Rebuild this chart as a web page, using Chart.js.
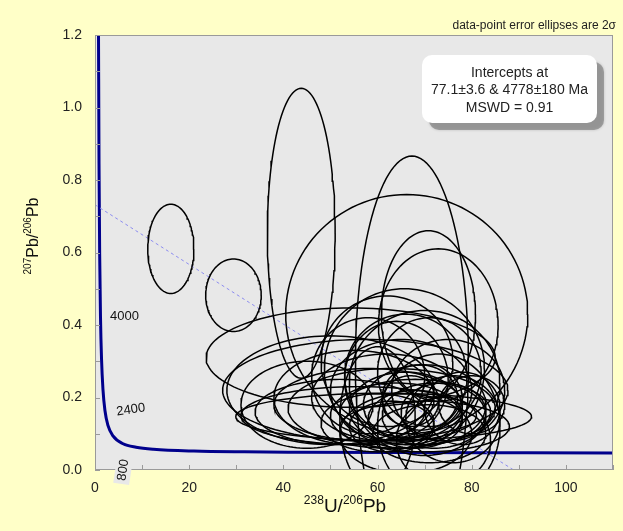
<!DOCTYPE html>
<html>
<head>
<meta charset="utf-8">
<script src="https://cdn.jsdelivr.net/npm/chart.js@4.4.1/dist/chart.umd.min.js"></script>
<style>
  html, body { margin: 0; padding: 0; background: #ffffc8; }
  #wrap { width: 623px; height: 531px; position: relative; }
</style>
</head>
<body>
<div id="wrap"><canvas id="chart"></canvas></div>
<script>
// tick labels
const xTickLabels = ["0", "20", "40", "60", "80", "100"];
const yTickLabels = ["0.0", "0.2", "0.4", "0.6", "0.8", "1.0", "1.2"];

// data-point error ellipses: centre, half-axes (2 sigma) and error correlation
const ellipseX = [16.1, 29.4, 43.8, 67.3, 66.2, 70.8, 72.9, 65.7, 54.3, 57.4, 61.3,
  58, 62, 64, 66, 68, 70, 72, 60, 74, 65, 69, 63, 71, 55, 50, 76, 73, 60, 67, 78, 64, 52, 45, 70,
  66, 71, 62, 75, 58, 68, 63, 80, 66, 74, 56, 70];
const ellipseY = [0.61, 0.482, 0.653, 0.30, 0.43, 0.43, 0.40, 0.28, 0.31, 0.22, 0.147,
  0.18, 0.20, 0.15, 0.17, 0.14, 0.18, 0.15, 0.13, 0.16, 0.22, 0.20, 0.12, 0.10, 0.20, 0.22, 0.14, 0.12, 0.14, 0.19, 0.17, 0.25, 0.16, 0.18, 0.24,
  0.26, 0.27, 0.30, 0.22, 0.26, 0.16, 0.17, 0.18, 0.10, 0.08, 0.15, 0.12];
const ellipseSx = [4.9, 5.9, 7.2, 12, 25.7, 10, 12.7, 17, 30.7, 30.3, 31.4,
  20, 16, 14, 12, 10, 13, 11, 12, 9, 15, 8, 9, 12, 17, 22, 10, 13, 8, 6, 8, 11, 18, 14, 16,
  13, 11, 14, 12, 12, 16, 22, 7, 14, 10, 25, 18];
const ellipseSy = [0.123, 0.10, 0.40, 0.566, 0.33, 0.23, 0.21, 0.22, 0.137, 0.14, 0.065,
  0.10, 0.12, 0.09, 0.10, 0.08, 0.11, 0.09, 0.08, 0.08, 0.14, 0.09, 0.07, 0.08, 0.13, 0.15, 0.12, 0.20, 0.20, 0.07, 0.10, 0.16, 0.09, 0.12, 0.20,
  0.17, 0.15, 0.18, 0.14, 0.16, 0.09, 0.11, 0.08, 0.11, 0.12, 0.08, 0.07];
const ellipseRho = [0, 0, 0, 0, 0, 0, 0, 0, 0, 0, 0,
  0, 0, 0, 0, 0, 0, 0, 0, 0, 0, 0, 0, 0, 0, 0, 0, 0, 0, 0, 0, 0, 0, 0, 0,
  0, 0, 0, 0, 0, 0, 0, 0, 0, 0, 0, 0];

// concordia curve
const concordiaX = [0.742, 0.853, 0.990, 1.163, 1.387, 1.687, 2.111, 2.749, 3.817, 5.959, 8.72, 12.4, 20.99, 31.73, 42.48, 63.96, 91.59, 110.5];
const concordiaY = [1.207, 0.845, 0.597, 0.425, 0.306, 0.223, 0.164, 0.123, 0.094, 0.0725, 0.0628, 0.0572, 0.0523, 0.0501, 0.0491, 0.048, 0.0474, 0.0472];

// discordia (regression) line
const regressionX = [0, 88.9];
const regressionY = [0.7316, 0];

const ageLabels = ["4000", "2400", "800"];
const interceptText = ["Intercepts at", "77.1\u00b13.6 & 4778\u00b1180 Ma", "MSWD = 0.91"];
const noteText = "data-point error ellipses are 2\u03c3";

const FONT = "'Liberation Sans', Arial, sans-serif";

function ellipsePoints(i) {
  const pts = [];
  const r = ellipseRho[i];
  for (let k = 0; k <= 120; k++) {
    const t = (k / 120) * Math.PI * 2;
    pts.push({
      x: ellipseX[i] + ellipseSx[i] * Math.cos(t),
      y: ellipseY[i] + ellipseSy[i] * (r * Math.cos(t) + Math.sqrt(1 - r * r) * Math.sin(t)),
    });
  }
  return pts;
}

const ellipseSets = ellipseX.map((_, i) => ({
  data: ellipsePoints(i),
  showLine: true,
  pointRadius: 0,
  borderColor: "#000",
  borderWidth: 1.5,
  tension: 0,
}));

// draws text made of normal and superscript parts, centred on (x, y)
function drawSuperText(ctx, parts, x, y, size, supSize, angle) {
  ctx.save();
  ctx.translate(x, y);
  ctx.rotate(angle);
  let total = 0;
  parts.forEach((p) => {
    ctx.font = `${p.sup ? supSize : size}px ${FONT}`;
    total += ctx.measureText(p.t).width;
  });
  let cx = -total / 2;
  ctx.textBaseline = "alphabetic";
  ctx.textAlign = "left";
  parts.forEach((p) => {
    ctx.font = `${p.sup ? supSize : size}px ${FONT}`;
    ctx.fillText(p.t, cx, p.sup ? size * 0.36 - size * 0.42 : size * 0.36);
    cx += ctx.measureText(p.t).width;
  });
  ctx.restore();
}

const overlay = {
  id: "overlay",
  beforeDatasetsDraw(chart) {
    const { ctx, chartArea: a } = chart;
    ctx.save();
    ctx.fillStyle = "#e8e8e8";
    ctx.fillRect(a.left, a.top, a.right - a.left, a.bottom - a.top);
    ctx.restore();
  },
  afterDatasetsDraw(chart) {
    const { ctx, chartArea: a, scales } = chart;
    const xs = scales.x;
    const ys = scales.y;
    ctx.save();

    // frame and inside ticks
    ctx.strokeStyle = "#9a9a9a";
    ctx.lineWidth = 1;
    ctx.strokeRect(a.left + 0.5, a.top + 0.5, a.right - a.left - 1, a.bottom - a.top - 1);
    ctx.beginPath();
    xs.ticks.forEach((t) => {
      const px = Math.round(xs.getPixelForValue(t.value)) + 0.5;
      ctx.moveTo(px, a.bottom);
      ctx.lineTo(px, a.bottom - 5);
    });
    ys.ticks.forEach((t) => {
      const py = Math.round(ys.getPixelForValue(t.value)) + 0.5;
      ctx.moveTo(a.left, py);
      ctx.lineTo(a.left + 5, py);
    });
    ctx.stroke();

    // age labels on the concordia
    ctx.fillStyle = "#111";
    ctx.font = `13px ${FONT}`;
    ctx.textBaseline = "middle";
    ctx.textAlign = "left";
    ctx.fillText(ageLabels[0], xs.getPixelForValue(3.2), ys.getPixelForValue(0.425));

    ctx.save();
    ctx.translate(xs.getPixelForValue(7.6), ys.getPixelForValue(0.166));
    ctx.rotate(-0.14);
    ctx.textAlign = "center";
    ctx.fillText(ageLabels[1], 0, 0);
    ctx.restore();

    ctx.save();
    ctx.translate(xs.getPixelForValue(6.0), ys.getPixelForValue(0.0));
    ctx.rotate(-1.42);
    ctx.fillStyle = "#e8e8e8";
    ctx.fillRect(-14, -8, 28, 16);
    ctx.fillStyle = "#111";
    ctx.textAlign = "center";
    ctx.fillText(ageLabels[2], 0, 0);
    ctx.restore();
    ctx.restore();
  },
  afterDraw(chart) {
    const { ctx } = chart;
    ctx.save();

    // intercept box with shadow
    const bx = 422, by = 55, bw = 175, bh = 68;
    ctx.fillStyle = "rgba(120,120,120,0.6)";
    ctx.shadowColor = "rgba(0,0,0,0.3)";
    ctx.shadowBlur = 3;
    ctx.beginPath();
    ctx.roundRect(bx + 7, by + 7, bw, bh, 10);
    ctx.fill();
    ctx.shadowColor = "transparent";
    ctx.fillStyle = "#ffffff";
    ctx.beginPath();
    ctx.roundRect(bx, by, bw, bh, 10);
    ctx.fill();
    ctx.fillStyle = "#222";
    ctx.font = `14px ${FONT}`;
    ctx.textAlign = "center";
    ctx.textBaseline = "middle";
    interceptText.forEach((line, i) => {
      ctx.fillText(line, bx + bw / 2, by + 18 + i * 17.5);
    });

    // note above the plot
    ctx.font = `12px ${FONT}`;
    ctx.textAlign = "right";
    ctx.textBaseline = "alphabetic";
    ctx.fillText(noteText, 616, 29);

    // axis titles with superscripts
    ctx.fillStyle = "#111";
    drawSuperText(ctx, [{ t: "238", sup: true }, { t: "U/" }, { t: "206", sup: true }, { t: "Pb" }],
      345, 505, 19, 12, 0);
    drawSuperText(ctx, [{ t: "207", sup: true }, { t: "Pb/" }, { t: "206", sup: true }, { t: "Pb" }],
      32, 236, 16, 10, -Math.PI / 2);
    ctx.restore();
  },
};

new Chart(document.getElementById("chart"), {
  type: "scatter",
  data: {
    datasets: [
      ...ellipseSets,
      {
        data: regressionX.map((x, i) => ({ x, y: regressionY[i] })),
        showLine: true,
        pointRadius: 0,
        borderColor: "#8c8cf0",
        borderWidth: 1,
        borderDash: [3, 3],
      },
      {
        data: concordiaX.map((x, i) => ({ x, y: concordiaY[i] })),
        showLine: true,
        pointRadius: 0,
        borderColor: "#00008c",
        borderWidth: 3,
        cubicInterpolationMode: "monotone",
      },
    ],
  },
  options: {
    responsive: true,
    maintainAspectRatio: false,
    animation: false,
    layout: { padding: { top: 35, right: 8, left: 0, bottom: 0 } },
    plugins: { legend: { display: false }, tooltip: { enabled: false } },
    scales: {
      x: {
        type: "linear",
        min: 0,
        max: 110,
        afterFit: (s) => { s.height = 61; },
        grid: { display: false, drawTicks: false },
        border: { display: false },
        ticks: {
          stepSize: 10,
          autoSkip: false,
          maxRotation: 0,
          padding: 10,
          color: "#222",
          font: { family: FONT, size: 14 },
          callback: (v) => (xTickLabels.includes(String(v)) ? String(v) : ""),
        },
      },
      y: {
        type: "linear",
        min: 0,
        max: 1.2,
        afterFit: (s) => { s.width = 95; },
        grid: { display: false, drawTicks: false },
        border: { display: false },
        ticks: {
          stepSize: 0.1,
          autoSkip: false,
          padding: 13,
          color: "#222",
          font: { family: FONT, size: 14 },
          callback: (v) => {
            const s = v.toFixed(1);
            return yTickLabels.includes(s) ? s : "";
          },
        },
      },
    },
  },
  plugins: [overlay],
});
</script>
</body>
</html>
